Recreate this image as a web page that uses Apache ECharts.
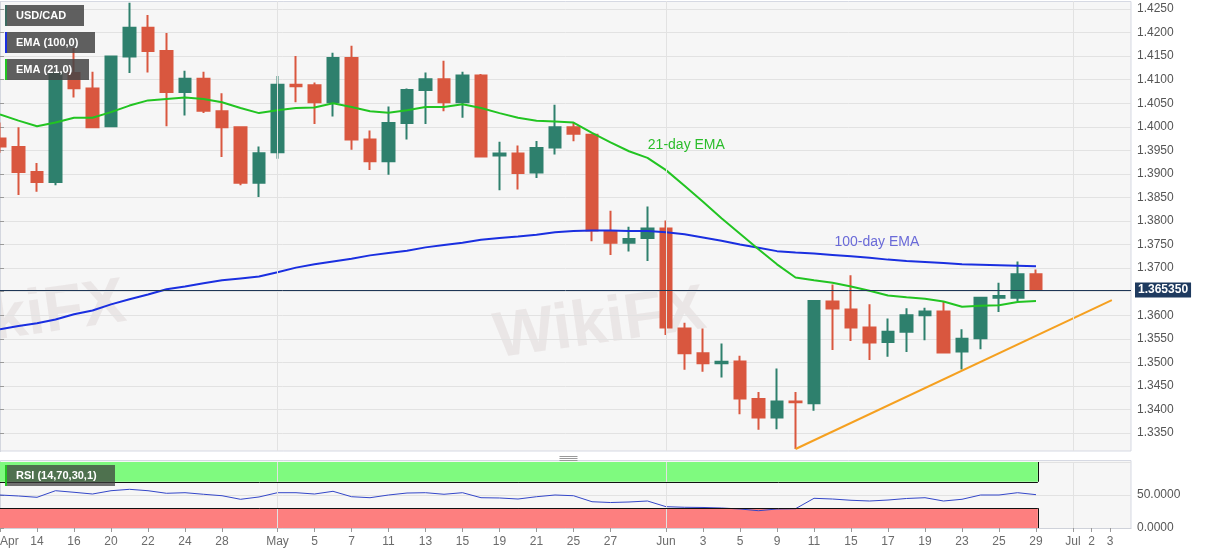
<!DOCTYPE html>
<html>
<head>
<meta charset="utf-8">
<script src="https://cdn.jsdelivr.net/npm/echarts@6/dist/echarts.min.js"></script>
<style>
html,body{margin:0;padding:0;background:#ffffff;}
#chart{width:1207px;height:555px;}
</style>
</head>
<body>
<div id="chart"></div>
<script>
// ---- trading days (index = position on the time axis) ----
const dates = ['04-10','04-13','04-14','04-15','04-16','04-17','04-20','04-21','04-22','04-23','04-24',
  '04-27','04-28','04-29','04-30','05-01','05-04','05-05','05-06','05-07','05-08',
  '05-11','05-12','05-13','05-14','05-15','05-18','05-19','05-20','05-21','05-22',
  '05-25','05-26','05-27','05-28','05-29','06-01','06-02','06-03','06-04','06-05',
  '06-08','06-09','06-10','06-11','06-12','06-15','06-16','06-17','06-18','06-19',
  '06-22','06-23','06-24','06-25','06-26','06-29','06-30','07-01','07-02','07-03'];

// ---- x tick labels ----
const tickDates  = ['04-10','04-14','04-16','04-20','04-22','04-24','04-28','05-01','05-05','05-07','05-11','05-13','05-15','05-19','05-21','05-25','05-27','06-01','06-03','06-05','06-09','06-11','06-15','06-17','06-19','06-23','06-25','06-29','07-01','07-02','07-03'];
const tickLabels = ['Apr','14','16','20','22','24','28','May','5','7','11','13','15','19','21','25','27','Jun','3','5','9','11','15','17','19','23','25','29','Jul','2','3'];
const monthStarts = ['05-01','06-01','07-01'];

// ---- USD/CAD daily candles: [open, close, low, high] ----
const candles = [
  [1.3975,1.3958,1.3945,1.4009],
  [1.3957,1.3904,1.3855,1.3999],
  [1.3904,1.3883,1.3862,1.3923],
  [1.3883,1.4114,1.3876,1.4121],
  [1.4114,1.4082,1.4062,1.4167],
  [1.4081,1.3999,1.3998,1.4117],
  [1.4001,1.4149,1.4000,1.4150],
  [1.4149,1.4210,1.4114,1.4263],
  [1.4210,1.4161,1.4115,1.4237],
  [1.4161,1.4074,1.4001,1.4199],
  [1.4074,1.4102,1.4024,1.4119],
  [1.4102,1.4034,1.4029,1.4117],
  [1.4033,1.3999,1.3936,1.4071],
  [1.3999,1.3881,1.3876,1.4001],
  [1.3881,1.3944,1.3851,1.3958],
  [1.3946,1.4089,1.3932,1.4108],
  [1.4089,1.4086,1.4052,1.4150],
  [1.4088,1.4052,1.4006,1.4094],
  [1.4052,1.4146,1.4022,1.4157],
  [1.4146,1.3973,1.3951,1.4172],
  [1.3973,1.3927,1.3908,1.3992],
  [1.3927,1.4008,1.3898,1.4043],
  [1.4008,1.4078,1.3973,1.4081],
  [1.4078,1.4101,1.4006,1.4115],
  [1.4101,1.4052,1.4033,1.4140],
  [1.4052,1.4109,1.4019,1.4117],
  [1.4109,1.3937,1.3936,1.4112],
  [1.3939,1.3943,1.3865,1.3968],
  [1.3943,1.3902,1.3867,1.3960],
  [1.3903,1.3955,1.3891,1.3970],
  [1.3956,1.3999,1.3941,1.4047],
  [1.3999,1.3985,1.3969,1.4009],
  [1.3983,1.3780,1.3757,1.3985],
  [1.3778,1.3754,1.3728,1.3822],
  [1.3754,1.3762,1.3735,1.3788],
  [1.3764,1.3784,1.3715,1.3831],
  [1.3784,1.3574,1.3558,1.3801],
  [1.3572,1.3519,1.3484,1.3584],
  [1.3519,1.3498,1.3480,1.3572],
  [1.3498,1.3501,1.3468,1.3540],
  [1.3502,1.3423,1.3390,1.3514],
  [1.3422,1.3383,1.3357,1.3437],
  [1.3383,1.3417,1.3358,1.3487],
  [1.3417,1.3415,1.3316,1.3437],
  [1.3413,1.3630,1.3397,1.3632],
  [1.3629,1.3614,1.3526,1.3665],
  [1.3612,1.3574,1.3545,1.3685],
  [1.3574,1.3542,1.3505,1.3623],
  [1.3543,1.3565,1.3512,1.3593],
  [1.3565,1.3600,1.3522,1.3615],
  [1.3600,1.3608,1.3547,1.3616],
  [1.3608,1.3521,1.3519,1.3628],
  [1.3523,1.3550,1.3485,1.3570],
  [1.3551,1.3637,1.3528,1.3639],
  [1.3637,1.3641,1.3607,1.3669],
  [1.3637,1.3687,1.3630,1.3714],
  [1.3687,1.36535,1.36535,1.3697]
];

// ---- 100-day EMA ----
const ema100 = [1.3570,1.3577,1.3583,1.3591,1.3602,1.3610,1.3623,1.3634,1.3644,1.3655,1.3661,1.3668,1.3674,1.3678,1.3682,
  1.3691,1.3701,1.3708,1.3714,1.3720,1.3727,1.3732,1.3737,1.3744,1.3749,1.3754,1.3760,1.3764,1.3767,1.3771,
  1.3776,1.3779,1.3780,1.3780,1.3779,1.3779,1.3776,1.3772,1.3765,1.3758,1.3750,1.3743,1.3736,1.3733,1.3731,
  1.3728,1.3725,1.3722,1.3718,1.3715,1.3713,1.3711,1.3708,1.3707,1.3706,1.3705,1.3704];

// ---- 21-day EMA ----
const ema21 = [1.4026,1.4013,1.4001,1.4009,1.4019,1.4019,1.4031,1.4045,1.4056,1.4059,1.4062,1.4059,1.4052,1.4040,1.4029,
  1.4035,1.4040,1.4041,1.4050,1.4042,1.4033,1.4030,1.4035,1.4042,1.4042,1.4048,1.4040,1.4029,1.4019,1.4013,
  1.4011,1.4009,1.3987,1.3967,1.3948,1.3934,1.3908,1.3875,1.3841,1.3806,1.3773,1.3740,1.3708,1.3680,1.3674,
  1.3669,1.3661,1.3652,1.3642,1.3638,1.3635,1.3629,1.3618,1.3620,1.3621,1.3628,1.3630];

// ---- RSI(14) ----
const rsi = [50.0,48.5,46.5,56.5,54.1,51.5,56.5,58.6,56.5,52.6,53.5,51.1,48.9,43.5,47.0,
  53.5,53.5,51.5,55.6,47.4,45.9,50.0,53.0,53.5,51.1,53.5,45.9,45.5,43.9,47.4,
  50.0,48.9,39.8,38.6,39.4,40.9,32.3,31.4,31.1,30.3,28.8,26.2,28.8,29.2,45.0,
  43.9,42.0,40.9,42.4,44.7,45.9,40.9,43.5,50.0,50.0,53.5,50.5];
const rsiUpper = 70, rsiLower = 30;

// ---- support trend line (from Jun 10 low) ----
const trendStart = ['06-10', 1.3316];
const trendEnd = ['07-03', 1.3632];
const lastPrice = 1.36535;

// ---------------------------------------------------------
const FONT = "'Liberation Sans', Arial, sans-serif";
const idx = d => dates.indexOf(d);
const tickIdx = tickDates.map(idx);
const labelFor = {};
tickIdx.forEach((v, k) => { labelFor[v] = tickLabels[k]; });
const lastIdx = candles.length - 1;

const W = 1207, H = 555;
const plotRight = 1131;
const pxPerDay = 18.5;
const xMax = plotRight / pxPerDay;

const candleData = candles.map((c, i) => [i, c[0], c[1], c[2], c[3]]);
const ema100Data = ema100.map((v, i) => [i, v]);
const ema21Data = ema21.map((v, i) => [i, v]);
const rsiData = rsi.map((v, i) => [i, v]);
const trendData = [[idx(trendStart[0]), trendStart[1]], [idx(trendEnd[0]) + 0.1, trendEnd[1]]];

const chart = echarts.init(document.getElementById('chart'), null, {renderer: 'canvas'});

function legendBox(y, w, label, stripe) {
  return {
    type: 'group', left: 5, top: y, z: 60,
    children: [
      {type: 'rect', shape: {x: 0, y: 0, width: w, height: 21}, style: {fill: 'rgba(70,70,70,0.86)'}, z: 60},
      {type: 'rect', shape: {x: 0, y: 0, width: 2, height: 21}, style: {fill: stripe}, z: 61},
      {type: 'text', x: 11, y: 10.5, style: {text: label, fill: '#ffffff', font: 'bold 11px ' + FONT, textVerticalAlign: 'middle'}, z: 61}
    ]
  };
}

const monthLinesMain = monthStarts.map(d => [{coord: [idx(d), 1.3312]}, {coord: [idx(d), 1.4299]}]);
const monthLinesRsi = monthStarts.map(d => [{coord: [idx(d), 0]}, {coord: [idx(d), 100]}]);

const option = {
  backgroundColor: '#ffffff',
  animation: false,
  textStyle: {fontFamily: FONT},
  grid: [
    {left: 0, right: W - plotRight, top: -14.56, height: 471.1, containLabel: false, outerBoundsMode: 'none'},
    {left: 0, right: W - plotRight, top: 462, height: 66, containLabel: false, outerBoundsMode: 'none'}
  ],
  xAxis: [
    {type: 'value', gridIndex: 0, min: 0, max: xMax, show: false, splitLine: {show: false}},
    {type: 'value', gridIndex: 1, min: 0, max: xMax,
      axisLine: {show: true, lineStyle: {color: '#cfd2da'}},
      axisTick: {show: true, customValues: tickIdx, length: 4, lineStyle: {color: '#9a9a9a'}},
      axisLabel: {show: true, customValues: tickIdx, formatter: v => labelFor[v] || '', color: '#6b6b6b',
        fontSize: 12, fontFamily: FONT, margin: 8, alignMinLabel: 'left', hideOverlap: false},
      splitLine: {show: false}}
  ],
  yAxis: [
    {type: 'value', gridIndex: 0, position: 'right', min: 1.33, max: 1.43, interval: 0.005,
      axisLine: {show: true, lineStyle: {color: '#d4d7df'}},
      axisTick: {show: true, length: 4, lineStyle: {color: '#9a9a9a'}},
      axisLabel: {color: '#555555', fontSize: 12, fontFamily: FONT, margin: 6,
        formatter: v => (v < 1.3349 || v > 1.4251) ? '' : v.toFixed(4)},
      splitLine: {show: true, lineStyle: {color: '#e2e2e2', width: 1}}},
    {type: 'value', gridIndex: 1, position: 'right', min: 0, max: 100, interval: 50,
      axisLine: {show: true, lineStyle: {color: '#d4d7df'}},
      axisTick: {show: true, length: 4, lineStyle: {color: '#9a9a9a'}},
      axisLabel: {color: '#555555', fontSize: 12, fontFamily: FONT, margin: 6,
        formatter: v => v >= 100 ? '' : v.toFixed(4)},
      splitLine: {show: true, lineStyle: {color: '#e2e2e2', width: 1}}}
  ],
  graphic: [
    {type: 'rect', shape: {x: 0.5, y: 1.5, width: plotRight - 0.5, height: 449.5}, style: {fill: '#f6f6f6', stroke: '#d6d9e3', lineWidth: 1}, z: -100},
    {type: 'rect', shape: {x: 0.5, y: 460.5, width: plotRight - 0.5, height: 68}, style: {fill: '#f6f6f6', stroke: '#d6d9e3', lineWidth: 1}, z: -100},
    {type: 'text', x: 20, y: 318, rotation: 0.14, style: {text: 'WikiFX', fill: 'rgba(205,190,190,0.28)', font: 'bold 64px ' + FONT, textAlign: 'center', textVerticalAlign: 'middle'}, z: -50},
    {type: 'text', x: 600, y: 325, rotation: 0.14, style: {text: 'WikiFX', fill: 'rgba(205,190,190,0.28)', font: 'bold 64px ' + FONT, textAlign: 'center', textVerticalAlign: 'middle'}, z: -50},
    {type: 'rect', shape: {x: 0, y: 452, width: W, height: 8}, style: {fill: '#ffffff'}, z: 50},
    {type: 'rect', shape: {x: 0, y: 0, width: W, height: 1}, style: {fill: '#ffffff'}, z: 50},
    {type: 'group', left: 557, top: 454, z: 51, children: [
      {type: 'line', shape: {x1: 0, y1: 0.5, x2: 18, y2: 0.5}, style: {stroke: '#9a9a9a', lineWidth: 1}, z: 51},
      {type: 'line', shape: {x1: 0, y1: 2.5, x2: 18, y2: 2.5}, style: {stroke: '#9a9a9a', lineWidth: 1}, z: 51},
      {type: 'line', shape: {x1: 0, y1: 4.5, x2: 18, y2: 4.5}, style: {stroke: '#9a9a9a', lineWidth: 1}, z: 51}
    ]},
    legendBox(5, 79, 'USD/CAD', '#3b6a60'),
    legendBox(32, 90, 'EMA (100,0)', '#1a2fe0'),
    legendBox(59, 84, 'EMA (21,0)', '#22c422'),
    {type: 'group', left: 5, top: 465, z: 60, children: [
      {type: 'rect', shape: {x: 0, y: 0, width: 110, height: 21}, style: {fill: 'rgba(60,60,60,0.72)'}, z: 60},
      {type: 'rect', shape: {x: 0, y: 0, width: 2, height: 21}, style: {fill: '#22c422'}, z: 61},
      {type: 'text', x: 11, y: 10.5, style: {text: 'RSI (14,70,30,1)', fill: '#ffffff', font: 'bold 11px ' + FONT, textVerticalAlign: 'middle'}, z: 61}
    ]}
  ],
  series: [
    {type: 'line', xAxisIndex: 0, yAxisIndex: 0, data: [], z: 1, silent: true,
      markLine: {silent: true, symbol: ['none', 'none'], label: {show: false},
        lineStyle: {color: '#e2e2e2', width: 1, type: 'solid'}, data: monthLinesMain}},
    {type: 'line', xAxisIndex: 1, yAxisIndex: 1, data: [], z: 1, silent: true,
      markLine: {silent: true, symbol: ['none', 'none'], label: {show: false},
        lineStyle: {color: '#e2e2e2', width: 1, type: 'solid'}, data: monthLinesRsi}},
    {type: 'candlestick', name: 'USD/CAD', xAxisIndex: 0, yAxisIndex: 0, data: candleData, z: 2,
      barWidth: 12,
      itemStyle: {color: '#2e806d', color0: '#d9573f', borderColor: '#2e806d', borderColor0: '#d9573f', borderWidth: 2}},
    {type: 'line', name: 'EMA (100,0)', xAxisIndex: 0, yAxisIndex: 0, data: ema100Data, z: 3,
      symbol: 'none', lineStyle: {color: '#1a2fe0', width: 2}, itemStyle: {color: '#1a2fe0'},
      markPoint: {symbol: 'circle', symbolSize: 1, itemStyle: {color: 'rgba(0,0,0,0)'},
        label: {show: true, position: 'inside', formatter: '100-day EMA', color: '#6a6ad8', fontSize: 14, fontFamily: FONT},
        data: [{coord: [47.4, 1.37544]}]}},
    {type: 'line', name: 'EMA (21,0)', xAxisIndex: 0, yAxisIndex: 0, data: ema21Data, z: 3,
      symbol: 'none', lineStyle: {color: '#22c422', width: 2}, itemStyle: {color: '#22c422'},
      markPoint: {symbol: 'circle', symbolSize: 1, itemStyle: {color: 'rgba(0,0,0,0)'},
        label: {show: true, position: 'inside', formatter: '21-day EMA', color: '#2bbd2b', fontSize: 14, fontFamily: FONT},
        data: [{coord: [37.1, 1.3960]}]}},
    {type: 'line', name: 'trend', xAxisIndex: 0, yAxisIndex: 0, data: trendData, z: 4,
      symbol: 'none', lineStyle: {color: '#f5a020', width: 2}},
    {type: 'line', xAxisIndex: 0, yAxisIndex: 0, data: [], z: 5, silent: true,
      markLine: {silent: true, precision: 6, symbol: ['none', 'none'],
        lineStyle: {color: '#1e3656', width: 1, type: 'solid'},
        label: {show: true, position: 'end', distance: 4, formatter: lastPrice.toFixed(6),
          color: '#ffffff', fontWeight: 'bold', fontSize: 12, fontFamily: FONT,
          backgroundColor: '#1e3a5f', padding: [2, 3, 1, 3]},
        data: [[{coord: [0, lastPrice]}, {coord: [xMax, lastPrice]}]]}},
    {type: 'line', name: 'RSI', xAxisIndex: 1, yAxisIndex: 1, data: rsiData, z: 4,
      symbol: 'none', lineStyle: {color: '#3346c8', width: 1}, itemStyle: {color: '#3346c8'},
      markArea: {silent: true, data: [
        [{coord: [0, rsiUpper], itemStyle: {color: '#7ffa7f'}}, {coord: [lastIdx + 0.1, 100]}],
        [{coord: [0, 0], itemStyle: {color: '#fd7f7f'}}, {coord: [lastIdx + 0.1, rsiLower]}]
      ]},
      markLine: {silent: true, symbol: ['none', 'none'], label: {show: false},
        lineStyle: {color: '#111111', width: 1, type: 'solid'},
        data: [
          [{coord: [0, rsiUpper]}, {coord: [lastIdx + 0.1, rsiUpper]}],
          [{coord: [0, rsiLower]}, {coord: [lastIdx + 0.1, rsiLower]}],
          [{coord: [lastIdx + 0.1, rsiUpper]}, {coord: [lastIdx + 0.1, 100]}],
          [{coord: [lastIdx + 0.1, 0]}, {coord: [lastIdx + 0.1, rsiLower]}]
        ]}}
  ]
};
chart.setOption(option);
</script>
</body>
</html>
